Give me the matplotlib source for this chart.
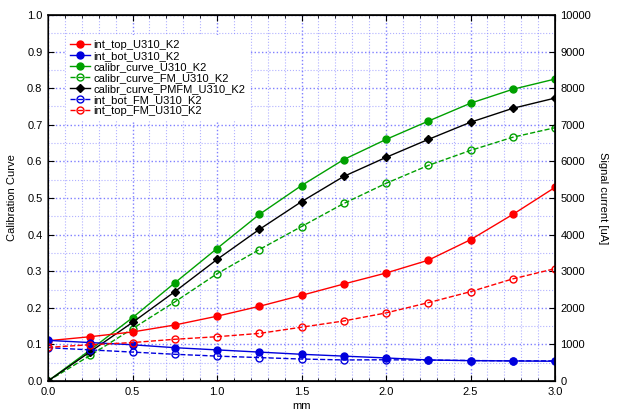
import matplotlib
matplotlib.use("Agg")
import matplotlib.pyplot as plt
from matplotlib.ticker import MultipleLocator, FormatStrFormatter

plt.rcParams['font.family'] = ['Liberation Sans', 'DejaVu Sans']

x = [0.0, 0.25, 0.5, 0.75, 1.0, 1.25, 1.5, 1.75, 2.0, 2.25, 2.5, 2.75, 3.0]

# Calibration curves (left axis)
calibr_curve = [0.0, 0.085, 0.173, 0.268, 0.362, 0.455, 0.534, 0.605, 0.660, 0.710, 0.759, 0.797, 0.825]
calibr_curve_FM = [0.0, 0.070, 0.143, 0.216, 0.293, 0.359, 0.422, 0.485, 0.540, 0.589, 0.630, 0.666, 0.692]
calibr_curve_PMFM = [0.0, 0.080, 0.160, 0.244, 0.332, 0.414, 0.490, 0.559, 0.611, 0.660, 0.707, 0.745, 0.773]

# Signal currents (right axis, uA)
int_top = [1100, 1210, 1340, 1530, 1770, 2040, 2340, 2650, 2950, 3300, 3860, 4550, 5290]
int_bot = [1110, 1050, 990, 910, 850, 790, 730, 680, 630, 575, 556, 548, 540]
int_bot_FM = [910, 850, 790, 730, 680, 640, 600, 575, 580, 570, 560, 550, 550]
int_top_FM = [920, 990, 1050, 1140, 1210, 1300, 1470, 1640, 1860, 2140, 2440, 2790, 3070]

fig = plt.figure(figsize=(6.2, 4.11), dpi=100)
ax = fig.add_axes([48 / 620, 30 / 411, 507 / 620, 366 / 411])
ax2 = ax.twinx()

ms = 5.0
lw = 1.0
fs = 8
h = []
h += ax2.plot(x, int_top, '-o', color='#ff0000', lw=lw, ms=ms, label='int_top_U310_K2')
h += ax2.plot(x, int_bot, '-o', color='#0000dd', lw=lw, ms=ms, label='int_bot_U310_K2')
h += ax.plot(x, calibr_curve, '-o', color='#00a000', lw=lw, ms=ms, label='calibr_curve_U310_K2')
h += ax.plot(x, calibr_curve_FM, '--o', color='#00a000', lw=lw, ms=ms, mfc='none', mew=1.0,
             label='calibr_curve_FM_U310_K2')
h += ax.plot(x, calibr_curve_PMFM, '-D', color='black', lw=lw, ms=ms - 0.5, label='calibr_curve_PMFM_U310_K2')
h += ax2.plot(x, int_bot_FM, '--o', color='#0000dd', lw=lw, ms=ms, mfc='none', mew=1.0,
              label='int_bot_FM_U310_K2')
h += ax2.plot(x, int_top_FM, '--o', color='#ff0000', lw=lw, ms=ms, mfc='none', mew=1.0,
              label='int_top_FM_U310_K2')

ax.set_xlim(0, 3.0)
ax.set_ylim(0, 1.0)
ax2.set_ylim(0, 10000)

ax.xaxis.set_major_locator(MultipleLocator(0.5))
ax.xaxis.set_minor_locator(MultipleLocator(0.1))
ax.yaxis.set_major_locator(MultipleLocator(0.1))
ax.yaxis.set_minor_locator(MultipleLocator(0.05))
ax2.yaxis.set_major_locator(MultipleLocator(1000))
ax.yaxis.set_major_formatter(FormatStrFormatter('%.1f'))
ax.xaxis.set_major_formatter(FormatStrFormatter('%.1f'))

ax.grid(True, which='major', color='#5555ff', linestyle=':', linewidth=1.0, alpha=0.75)
ax.grid(True, which='minor', color='#8888ff', linestyle=':', linewidth=0.8, alpha=0.65)
ax.set_axisbelow(True)

ax.tick_params(which='both', direction='in', labelsize=fs, pad=4, top=True)
ax.tick_params(which='major', length=4)
ax.tick_params(which='minor', length=2)
ax.tick_params(axis='y', which='minor', length=0)
ax2.tick_params(direction='in', labelsize=fs, length=4, pad=4)

ax.spines['left'].set_color('#555555')
ax.spines['left'].set_linewidth(1.2)
for s in ['bottom', 'right', 'top']:
    ax2.spines[s].set_linewidth(1.2)

ax.set_xlabel('mm', fontsize=fs, labelpad=3)
ax.set_ylabel('Calibration Curve', fontsize=fs, labelpad=7)
ax2.set_ylabel('Signal current [uA]', fontsize=fs, rotation=270, labelpad=12)

leg = ax2.legend(handles=h, loc='upper left', bbox_to_anchor=(0.035, 0.945), borderaxespad=0,
                 frameon=True, fontsize=fs, handlelength=1.8, handletextpad=0.3, labelspacing=0.1,
                 borderpad=0.4, fancybox=False)
leg.get_frame().set_edgecolor('none')
leg.get_frame().set_facecolor('white')
leg.get_frame().set_alpha(1.0)

fig.savefig('out.png', dpi=100)
